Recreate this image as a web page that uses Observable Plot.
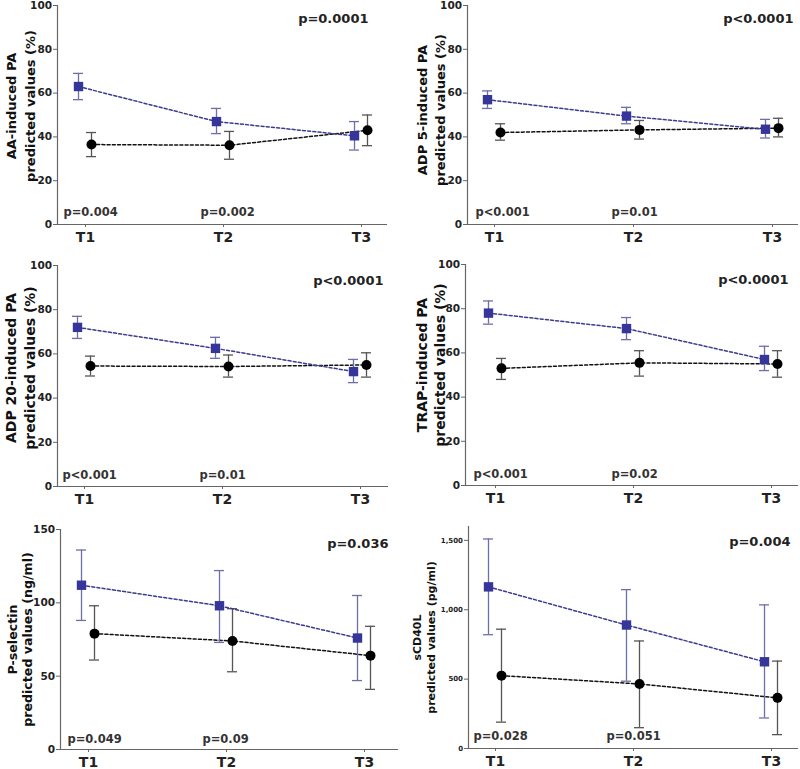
<!DOCTYPE html>
<html>
<head>
<meta charset="utf-8">
<script src="https://cdn.jsdelivr.net/npm/d3@7"></script>
<script src="https://cdn.jsdelivr.net/npm/@observablehq/plot@0.6"></script>
<style>
  html, body { margin: 0; padding: 0; background: #fff; }
  #wrap { position: relative; width: 800px; height: 769px; overflow: hidden; }
  #wrap > svg { position: absolute; }
</style>
</head>
<body>
<div id="wrap"></div>
<script>
// ---------- DATA ----------
const times = [1, 2, 3];
const timeLabels = ["T1", "T2", "T3"];

// each row: [mean, lower, upper]
const aaBlue    = [[63, 57, 69], [47, 41.5, 53], [40.5, 34, 47]];
const aaBlack   = [[36.5, 31, 42], [36.2, 29.8, 42.5], [43, 36, 50]];
const adp5Blue  = [[57, 53, 61], [49.5, 46, 53.5], [43.5, 39.5, 48]];
const adp5Black = [[42, 38.5, 46], [43.2, 39, 47.5], [44, 40, 48.5]];
const adp20Blue = [[72, 67, 77], [62.5, 58, 67.5], [52, 47, 57.5]];
const adp20Black= [[54.5, 50, 59], [54.3, 49.5, 59.5], [55, 49.5, 60.5]];
const trapBlue  = [[78, 73, 83.5], [71, 66, 76], [57, 52, 63]];
const trapBlack = [[53, 48, 57.5], [55.5, 49.5, 61], [55, 49, 61]];
const pselBlue  = [[112, 88, 136], [98, 73, 122], [76, 47, 105]];
const pselBlack = [[79, 61, 98], [74, 53, 96], [64, 41, 84]];
const cd40Blue  = [[1165, 820, 1510], [890, 485, 1145], [625, 220, 1035]];
const cd40Black = [[525, 190, 860], [465, 150, 775], [365, 100, 630]];

const yLabels = [
  ["AA-induced PA", "predicted values (%)"],
  ["ADP 5-induced PA", "predicted values (%)"],
  ["ADP 20-induced PA", "predicted values (%)"],
  ["TRAP-induced PA", "predicted values (%)"],
  ["P-selectin", "predicted values (ng/ml)"],
  ["sCD40L", "predicted values (pg/ml)"]
];
const yDomains = [[0, 100], [0, 100], [0, 100], [0, 100], [0, 150], [0, 1600]];
const yTicks = [
  [0, 20, 40, 60, 80, 100], [0, 20, 40, 60, 80, 100],
  [0, 20, 40, 60, 80, 100], [0, 20, 40, 60, 80, 100],
  [0, 50, 100, 150], [0, 500, 1000, 1500]
];
const overallP = ["p=0.0001", "p<0.0001", "p<0.0001", "p<0.0001", "p=0.036", "p=0.004"];
const timepointP = [
  ["p=0.004", "p=0.002"], ["p<0.001", "p=0.01"], ["p<0.001", "p=0.01"],
  ["p<0.001", "p=0.02"], ["p=0.049", "p=0.09"], ["p=0.028", "p=0.051"]
];
const blueSeries  = [aaBlue, adp5Blue, adp20Blue, trapBlue, pselBlue, cd40Blue];
const blackSeries = [aaBlack, adp5Black, adp20Black, trapBlack, pselBlack, cd40Black];

// ---------- LAYOUT (styles / positions of the panels) ----------
const layout = [
  {left: 0,   top: 0,   W: 400, H: 255, mL: 57, mR: 13, mT: 5,  mB: 31, a: 85, c: 361, labDx: -38.5, labDy: -9,  labFs: 13,   labLh: 1.46, tickFs: 10.5, pDx: -19, pDy: 13, ppDx: [-22, -23], ppDy: -12},
  {left: 400, top: 0,   W: 400, H: 255, mL: 67, mR: 2,  mT: 5,  mB: 31, a: 94, c: 372, labDx: -37,   labDy: -5,  labFs: 13,   labLh: 1.4,  tickFs: 10.5, pDx: -5,  pDy: 13, ppDx: [-19, -22], ppDy: -12},
  {left: 0,   top: 255, W: 400, H: 255, mL: 57, mR: 12, mT: 10, mB: 24, a: 84, c: 360, labDx: -38.5, labDy: -8,  labFs: 14,   labLh: 1.36, tickFs: 10.5, pDx: -5,  pDy: 15, ppDx: [-22, -23], ppDy: -11},
  {left: 400, top: 255, W: 400, H: 255, mL: 65, mR: 2,  mT: 9,  mB: 25, a: 95, c: 371, labDx: -35,   labDy: -10, labFs: 14,   labLh: 1.3,  tickFs: 10.5, pDx: -10, pDy: 15, ppDx: [-22, -22], ppDy: -11},
  {left: 0,   top: 510, W: 400, H: 259, mL: 60, mR: 2,  mT: 19, mB: 20, a: 88, c: 364, labDx: -40.5, labDy: 0,   labFs: 12.6, labLh: 1.2,  tickFs: 10.5, pDx: -10, pDy: 14, ppDx: [-21, -24], ppDy: -10},
  {left: 400, top: 510, W: 400, H: 259, mL: 68, mR: 2,  mT: 16, mB: 21, a: 95, c: 371, labDx: -45,   labDy: 0,   labFs: 11,   labLh: 1.25, tickFs: 7,    pDx: -8,  pDy: 15, ppDx: [-22, -27], ppDy: -12}
];

const BLUE = "#35359a", BLUE_ERR = "#6f6fa8", BLUE_LINE = "#3c3c8e";
const BLACK = "#000", BLACK_ERR = "#555", BLACK_LINE = "#111";
const AXIS = "#666";

function rows(series) {
  return times.map((t, i) => ({t, m: series[i][0], lo: series[i][1], hi: series[i][2]}));
}

function seriesMarks(data, dx, color, errColor, lineColor, symbol, r) {
  return [
    Plot.ruleX(data, {x: "t", y1: "lo", y2: "hi", dx, stroke: errColor, strokeWidth: 1.3}),
    Plot.ruleY(data, {y: "hi", x1: "t", x2: "t", insetLeft: -5, insetRight: -5, dx, stroke: errColor, strokeWidth: 1.3}),
    Plot.ruleY(data, {y: "lo", x1: "t", x2: "t", insetLeft: -5, insetRight: -5, dx, stroke: errColor, strokeWidth: 1.3}),
    Plot.line(data, {x: "t", y: "m", dx, stroke: lineColor, strokeWidth: 1.5, strokeDasharray: "3,2.2"}),
    Plot.dot(data, {x: "t", y: "m", dx, symbol, r, fill: color, stroke: "none"})
  ];
}

const wrap = document.getElementById("wrap");

layout.forEach((L, k) => {
  const unit = (L.c - L.a) / 2;
  const xlo = 1 - (L.a - L.mL) / unit;
  const xhi = 3 + (L.W - L.mR - L.c) / unit;
  const fmt = yDomains[k][1] > 1000 ? d3.format(",") : d3.format("d");
  const chart = Plot.plot({
    width: L.W,
    height: L.H,
    marginLeft: L.mL,
    marginRight: L.mR,
    marginTop: L.mT,
    marginBottom: L.mB,
    style: {fontFamily: "DejaVu Sans, Verdana, sans-serif", fontWeight: "bold", background: "transparent", overflow: "visible"},
    x: {domain: [xlo, xhi]},
    y: {domain: yDomains[k]},
    marks: [
      Plot.ruleY([yDomains[k][0]], {stroke: AXIS, strokeWidth: 1.2}),
      Plot.ruleX([xlo], {stroke: AXIS, strokeWidth: 1.2}),
      Plot.axisY({ticks: yTicks[k], tickFormat: fmt, tickSize: 4, tickPadding: 1.5, fontSize: L.tickFs, stroke: AXIS, fill: "#222", label: null}),
      Plot.axisX({ticks: times, tickFormat: d => timeLabels[d - 1], tickSize: 3, tickPadding: 5, fontSize: 14, stroke: AXIS, fill: "#222", label: null}),
      Plot.text([yLabels[k].join("\n")], {text: d => d, frameAnchor: "left", rotate: -90, dx: L.labDx, dy: L.labDy,
        fontSize: L.labFs, lineHeight: L.labLh, textAnchor: "middle", lineAnchor: "middle", fill: "#111"}),
      Plot.text([overallP[k]], {text: d => d, frameAnchor: "top-right", textAnchor: "end", lineAnchor: "middle",
        dx: L.pDx, dy: L.pDy, fontSize: 13, fill: "#222"}),
      Plot.text([timepointP[k][0]], {x: [times[0]], text: d => d, frameAnchor: "bottom", textAnchor: "start", lineAnchor: "middle",
        dx: L.ppDx[0], dy: L.ppDy, fontSize: 11.5, fill: "#333"}),
      Plot.text([timepointP[k][1]], {x: [times[1]], text: d => d, frameAnchor: "bottom", textAnchor: "start", lineAnchor: "middle",
        dx: L.ppDx[1], dy: L.ppDy, fontSize: 11.5, fill: "#333"}),
      ...seriesMarks(rows(blackSeries[k]), 6, BLACK, BLACK_ERR, BLACK_LINE, "circle", 5),
      ...seriesMarks(rows(blueSeries[k]), -7, BLUE, BLUE_ERR, BLUE_LINE, "square", 5.3)
    ]
  });
  chart.style.left = L.left + "px";
  chart.style.top = L.top + "px";
  wrap.appendChild(chart);
});
</script>
</body>
</html>
